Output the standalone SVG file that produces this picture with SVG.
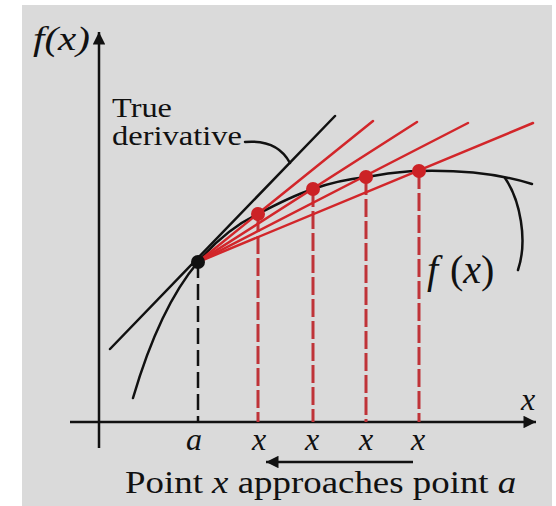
<svg xmlns="http://www.w3.org/2000/svg" width="556" height="506" viewBox="0 0 556 506">
<defs>
<style>
.ax{stroke:#111;stroke-width:2.5;fill:none}
.blk{stroke:#111;stroke-width:2.5;fill:none;stroke-linecap:round}
.red{stroke:#d2262a;stroke-width:2.5;fill:none;stroke-linecap:round}
.rdash{stroke:#bf3338;stroke-width:3;fill:none;stroke-dasharray:18 4}
.bdash{stroke:#111;stroke-width:2.5;fill:none;stroke-dasharray:16 6}
.i{font-style:italic}
</style>
<marker id="ah" viewBox="0 0 10 10" refX="10" refY="5" markerWidth="7" markerHeight="5" markerUnits="strokeWidth" orient="auto-start-reverse">
<path d="M0,0 L10,5 L0,10 Z" fill="#111"/>
</marker>
</defs>
<rect x="22" y="5" width="530" height="501" fill="#dadada"/>
<g id="axes">
<line class="ax" x1="99" y1="448" x2="99" y2="32" marker-end="url(#ah)"/>
<line class="ax" x1="70" y1="422" x2="536" y2="422" marker-end="url(#ah)"/>
</g>
<g id="connectors">
<line class="bdash" x1="198" y1="262" x2="198" y2="422"/>
<line class="rdash" x1="258" y1="214" x2="258" y2="422"/>
<line class="rdash" x1="313" y1="189" x2="313" y2="422"/>
<line class="rdash" x1="366" y1="177" x2="366" y2="422"/>
<line class="rdash" x1="419" y1="171" x2="419" y2="422"/>
<path class="blk" d="M133,398 C150,340 170,295 198,262 C215,242 235,225 258,214 C275,205 295,195 313,189 C330,183 348,179 366,177 C385,174 400,171 419,171 C460,170 500,174 532,184"/>
<line class="blk" x1="110" y1="349" x2="335" y2="116"/>
<line class="red" x1="198" y1="262" x2="373" y2="121"/>
<line class="red" x1="198" y1="262" x2="417" y2="122"/>
<line class="red" x1="198" y1="262" x2="468" y2="123"/>
<line class="red" x1="198" y1="262" x2="533" y2="123"/>
<path class="blk" d="M245,142 C268,140 282,148 290,163"/>
<path class="blk" d="M505,178 C520,200 528,240 518,270"/>
<line class="ax" x1="413" y1="462" x2="266" y2="462" marker-end="url(#ah)"/>
</g>
<g id="point-a"><circle cx="198" cy="262" r="7" fill="#111"/></g>
<g id="points-x" fill="#cc2226">
<circle cx="258" cy="214" r="7"/>
<circle cx="313" cy="189" r="7"/>
<circle cx="366" cy="177" r="7"/>
<circle cx="419" cy="171" r="7"/>
</g>
<g id="labels" font-family="Liberation Serif, Times New Roman, serif" fill="#111">
<text class="i" x="33" y="50" font-size="33" textLength="57" lengthAdjust="spacingAndGlyphs">f(x)</text>
<text x="112" y="117" font-size="28" textLength="60" lengthAdjust="spacingAndGlyphs">True</text>
<text x="112" y="145" font-size="28" textLength="130" lengthAdjust="spacingAndGlyphs">derivative</text>
<text class="i" x="427" y="283" font-size="40">f</text>
<text x="450" y="283" font-size="40">(<tspan class="i">x</tspan>)</text>
<text class="i" x="528" y="410" font-size="32" text-anchor="middle">x</text>
<text class="i" x="194" y="450" font-size="32" text-anchor="middle">a</text>
<text class="i" x="259" y="450" font-size="32" text-anchor="middle">x</text>
<text class="i" x="312" y="450" font-size="32" text-anchor="middle">x</text>
<text class="i" x="366" y="450" font-size="32" text-anchor="middle">x</text>
<text class="i" x="418" y="450" font-size="32" text-anchor="middle">x</text>
<text transform="translate(125,493) scale(1.19,1)" font-size="31">Point <tspan class="i">x</tspan> approaches point <tspan class="i">a</tspan></text>
</g>
</svg>
